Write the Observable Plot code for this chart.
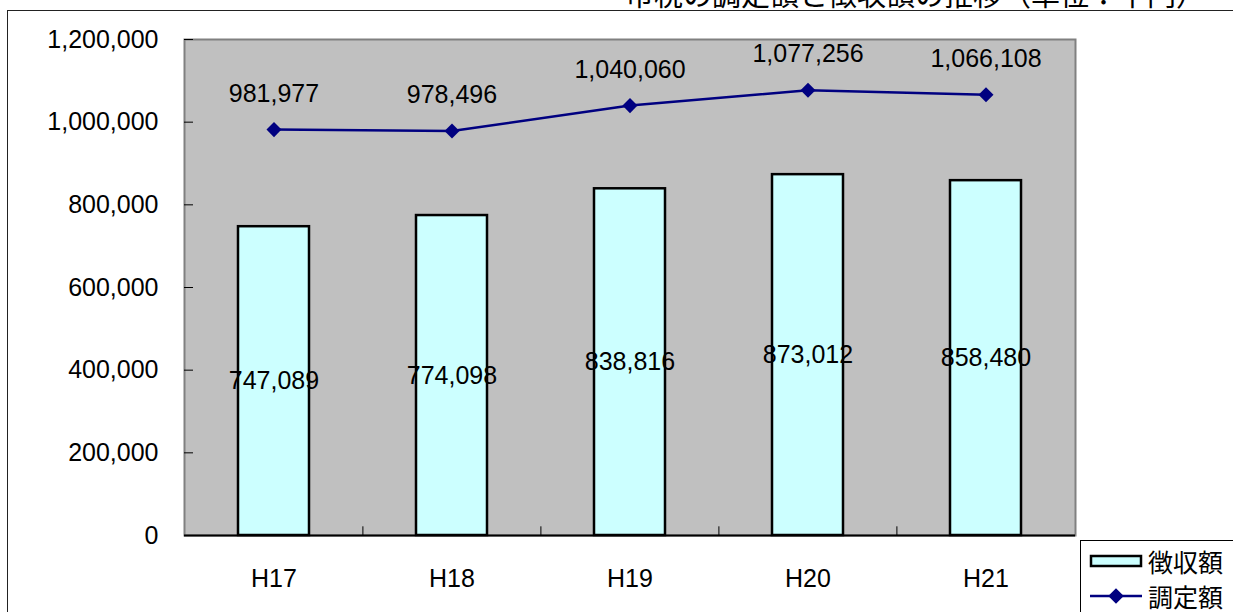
<!DOCTYPE html>
<html>
<head>
<meta charset="utf-8">
<script src="https://cdn.jsdelivr.net/npm/d3@7"></script>
<script src="https://cdn.jsdelivr.net/npm/@observablehq/plot@0.6"></script>
<style>
  html, body { margin: 0; padding: 0; background: white; overflow: hidden; }
  #wrap { position: relative; width: 1233px; height: 612px; overflow: hidden; font-family: "Liberation Sans", Arial, sans-serif; }
  #title { position: absolute; right: 28px; top: -25px; font-family: "Noto Sans CJK JP", sans-serif; font-size: 29px; line-height: 36px; white-space: nowrap; color: #000; }
  #border { position: absolute; left: 7px; top: 10px; width: 1300px; height: 700px; border-top: 1.5px solid #222; border-left: 1.5px solid #222; }
  #chart { position: absolute; left: 0; top: 0; }
  #legend { position: absolute; left: 1080px; top: 540px; width: 200px; height: 100px; border: 1.5px solid #000; background: white; font-family: "Noto Sans CJK JP", sans-serif; font-size: 25px; }
  .item { position: absolute; left: 8px; display: flex; align-items: center; white-space: nowrap; }
  .item svg { margin-right: 5px; }
</style>
</head>
<body>
<div id="wrap">
  <div id="title">市税の調定額と徴収額の推移（単位：千円）</div>
  <div id="border"></div>
  <div id="chart"></div>
  <div id="legend"></div>
</div>
<script>
const years = ["H17", "H18", "H19", "H20", "H21"];
const collected = [747089, 774098, 838816, 873012, 858480];   // 徴収額
const assessed = [981977, 978496, 1040060, 1077256, 1066108]; // 調定額
const yTicks = [0, 200000, 400000, 600000, 800000, 1000000, 1200000];
const seriesNames = ["徴収額", "調定額"];

const data = years.map((y, i) => ({year: y, collected: collected[i], assessed: assessed[i]}));
const fmt = d3.format(",");

const chart = Plot.plot({
  width: 1233,
  height: 612,
  marginLeft: 184,
  marginRight: 158,
  marginTop: 39,
  marginBottom: 77,
  style: {background: "none", fontFamily: "'Liberation Sans', Arial, sans-serif", fontSize: "25px", color: "#000"},
  x: {domain: years, paddingInner: 0.6, paddingOuter: 0.3, label: null},
  y: {domain: [0, 1200000], label: null},
  marks: [
    Plot.frame({fill: "#c0c0c0", stroke: "#808080", strokeWidth: 2}),
    Plot.axisY({ticks: yTicks, tickFormat: fmt, tickSize: -9, tickPadding: 35, fontSize: 25, stroke: "#000"}),
    Plot.axisX({tickSize: 0, tickPadding: 34, fontSize: 25}),
    Plot.ruleX(years.slice(1), {y1: 0, y2: 21000, dx: -89.1, stroke: "#000", strokeWidth: 1}),
    Plot.barY(data, {x: "year", y: "collected", fill: "#ccffff", stroke: "#000", strokeWidth: 2.5}),
    Plot.ruleY([0], {stroke: "#000", strokeWidth: 2}),
    Plot.text(data, {x: "year", y: d => d.collected / 2, text: d => fmt(d.collected), fontSize: 25, fill: "#000"}),
    Plot.line(data, {x: "year", y: "assessed", stroke: "#000080", strokeWidth: 2.5}),
    Plot.dot(data, {x: "year", y: "assessed", symbol: "square", r: 6, rotate: 45, fill: "#000080", stroke: "none"}),
    Plot.text(data, {x: "year", y: "assessed", text: d => fmt(d.assessed), dy: -36, fontSize: 25, fill: "#000"})
  ]
});
document.getElementById("chart").appendChild(chart);

const legend = document.getElementById("legend");
legend.innerHTML = `
  <div class="item" style="top:2px;">
    <svg width="54" height="16"><rect x="2" y="3" width="50" height="10" fill="#ccffff" stroke="#000" stroke-width="2.5"/></svg>
    <span>${seriesNames[0]}</span>
  </div>
  <div class="item" style="top:37px;">
    <svg width="54" height="18"><line x1="1" y1="9" x2="53" y2="9" stroke="#000080" stroke-width="2.5"/><rect x="21.5" y="3.5" width="11" height="11" fill="#000080" transform="rotate(45 27 9)"/></svg>
    <span>${seriesNames[1]}</span>
  </div>`;
</script>
</body>
</html>
